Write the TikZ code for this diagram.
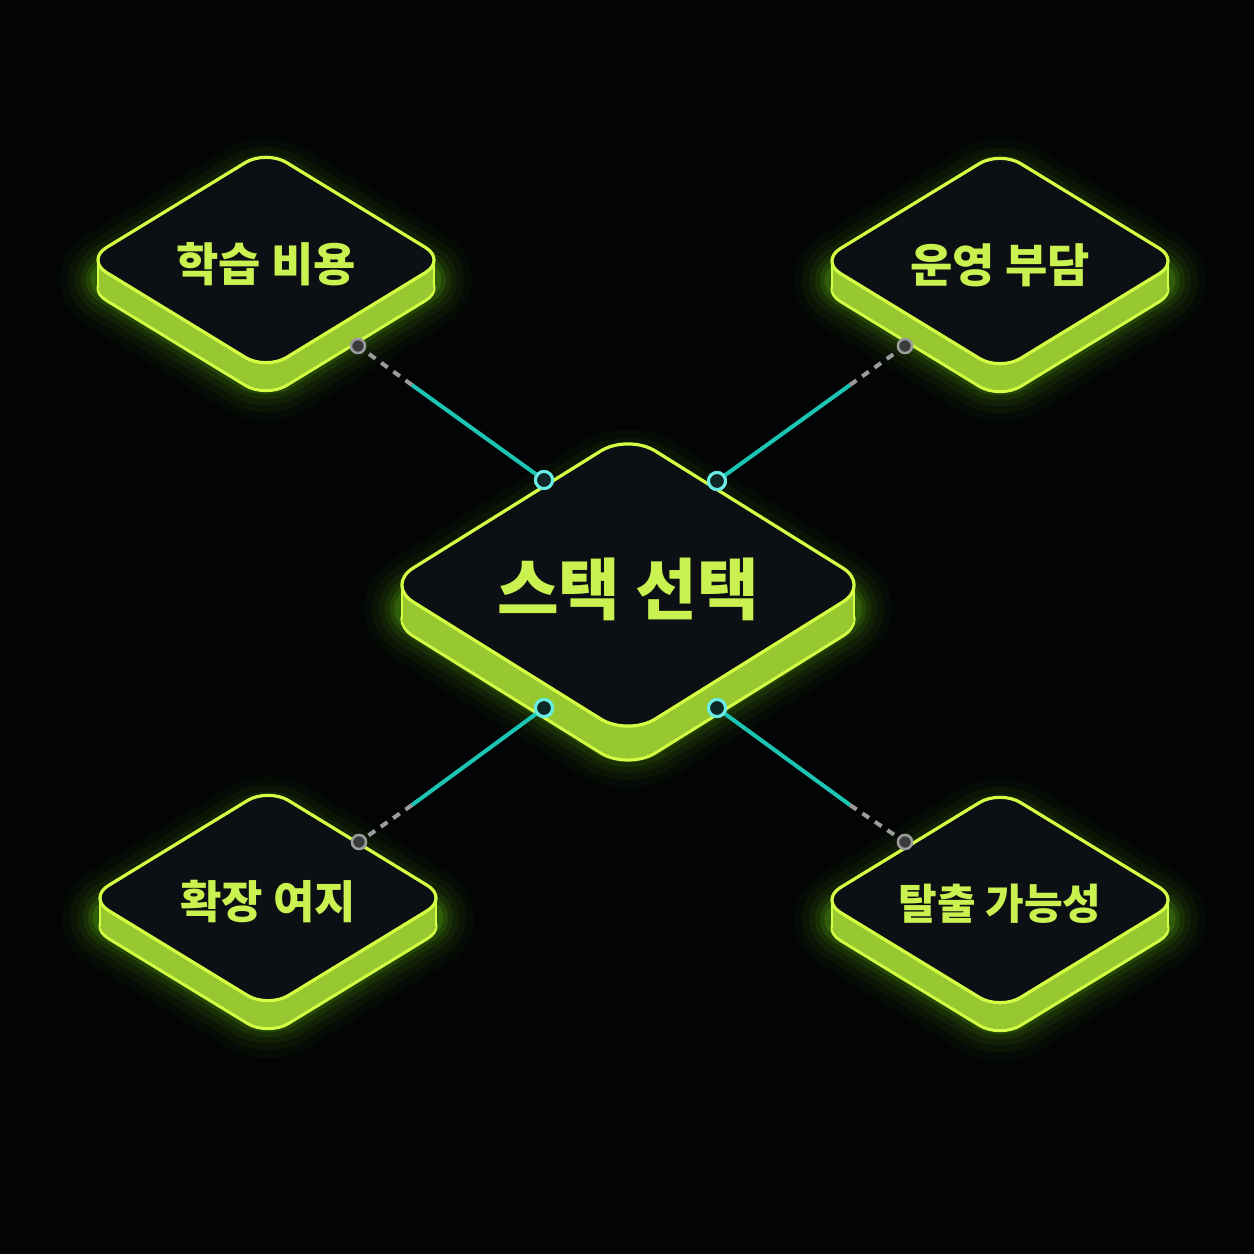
\documentclass[tikz,border=0pt]{standalone}
\usepackage{fontspec}
\newfontfamily\kr{Noto Sans CJK KR}
\definecolor{bg}{HTML}{030405}
\definecolor{face}{HTML}{0C1014}
\definecolor{edge}{HTML}{D4FF44}
\definecolor{sidec}{HTML}{97C830}
\definecolor{glowc}{HTML}{86FF1A}
\definecolor{txt}{HTML}{C9F250}
\definecolor{cyanl}{HTML}{1CC4B4}
\definecolor{cyanr}{HTML}{6AEDE6}
\definecolor{portfill}{HTML}{0E2624}
\definecolor{grayl}{HTML}{9C9C9C}
\definecolor{grayf}{HTML}{3A3B3D}
\newcommand\dia[4]{({#1+#3/2},{#2-#4/2}) -- ({#1+#3},{#2}) -- ({#1},{#2+#4}) -- ({#1-#3},{#2}) -- ({#1},{#2-#4}) -- cycle}
% cx cy hw hh thick radius name text size
\newcommand\slab[9]{%
\begin{scope}[rounded corners=#6*0.5pt]
 \foreach \w/\o in {76/0.03,60/0.04,46/0.055,34/0.075,24/0.1,15/0.13}{
  \draw[line width=\w*0.5pt, glowc, opacity=\o] \dia{#1}{#2+#5*0.7}{#3}{#4};
 }
 \draw[edge, line width=1.5pt, fill=sidec] \dia{#1}{#2+#5}{#3}{#4};
 \pgfmathtruncatemacro\slabend{#5-2}
 \foreach \k in {0,2,...,\slabend}{
  \fill[sidec] \dia{#1}{#2+\k}{#3}{#4};
 }
\end{scope}
 \pgfmathsetmacro\slabxl{#1-#3+0.498*#6}
 \pgfmathsetmacro\slabxr{#1+#3-0.498*#6}
 \draw[edge, line width=1.2pt] (\slabxl,#2) -- (\slabxl,#2+#5);
 \draw[edge, line width=1.2pt] (\slabxr,#2) -- (\slabxr,#2+#5);
\begin{scope}[rounded corners=#6*0.5pt]
 \draw[edge, line width=1.6pt, fill=face] \dia{#1}{#2}{#3}{#4};
\end{scope}
 \node[label text, font=\kr\bfseries\fontsize{#9}{#9}\selectfont] (#7) at (#1,#2+4) {#8};
}
\begin{document}
\begin{tikzpicture}[x=0.5pt,y=-0.5pt,
  label text/.style={text=txt, inner sep=0pt, anchor=center},
  cport/.style={circle, draw=cyanr, line width=1.5pt, fill=portfill, minimum size=8.5pt, inner sep=0pt},
  gport/.style={circle, draw=grayl, line width=1.2pt, fill=grayf, minimum size=7pt, inner sep=0pt},
  solidlink/.style={cyanl, line width=2pt},
  dashlink/.style={grayl, line width=2pt, dash pattern=on 4pt off 3.5pt}]
\fill[bg] (0,0) rectangle (1254,1254);
\useasboundingbox (0,0) rectangle (1254,1254);

\slab{266}{260}{180}{110}{28}{24}{learn}{학습 비용}{23}
\slab{1000}{261}{180}{110}{28}{24}{ops}{운영 부담}{23}
\slab{268}{898}{180}{110}{28}{24}{scale}{확장 여지}{22.5}
\slab{1000}{900}{180}{110}{28}{24}{exit}{탈출 가능성}{21}
\slab{628}{585}{242}{151}{34}{32}{stack}{스택 선택}{33.5}

\coordinate (k1) at (412,385);
\coordinate (k2) at (850,385);
\coordinate (k3) at (412,805);
\coordinate (k4) at (850,805);

\node[cport] (c1) at (544,480) {};
\node[cport] (c2) at (717,481) {};
\node[cport] (c3) at (544,708) {};
\node[cport] (c4) at (717,708) {};
\node[gport] (g1) at (358,346) {};
\node[gport] (g2) at (905,346) {};
\node[gport] (g3) at (359,842) {};
\node[gport] (g4) at (905,842) {};

\draw[solidlink] (c1) -- (k1);
\draw[dashlink] (k1) -- (g1);
\draw[solidlink] (c2) -- (k2);
\draw[dashlink] (k2) -- (g2);
\draw[solidlink] (c3) -- (k3);
\draw[dashlink] (k3) -- (g3);
\draw[solidlink] (c4) -- (k4);
\draw[dashlink] (k4) -- (g4);

\node[cport] at (c1) {};
\node[cport] at (c2) {};
\node[cport] at (c3) {};
\node[cport] at (c4) {};
\node[gport] at (g1) {};
\node[gport] at (g2) {};
\node[gport] at (g3) {};
\node[gport] at (g4) {};
\end{tikzpicture}
\end{document}
